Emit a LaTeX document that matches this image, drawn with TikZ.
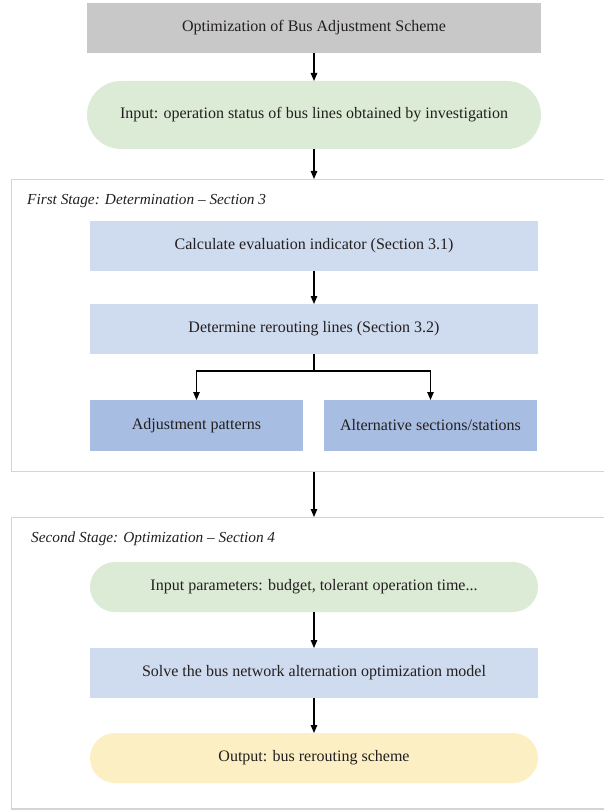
\documentclass[tikz,border=0pt]{standalone}
\usepackage{fontspec}
\setmainfont{Liberation Serif}
\usetikzlibrary{arrows.meta}
\definecolor{txt}{HTML}{231F20}
\definecolor{titlegray}{HTML}{C8C8C8}
\definecolor{ingreen}{HTML}{DCEBD5}
\definecolor{lblue}{HTML}{CFDBEE}
\definecolor{mblue}{HTML}{A8BDE2}
\definecolor{outyellow}{HTML}{FCEFC4}
\definecolor{framegray}{HTML}{D4D4D4}
\tikzset{
  base/.style={inner sep=0pt, outer sep=0pt, text=txt, font=\fontsize{16}{19}\selectfont, align=center},
  titlebox/.style={base, fill=titlegray, minimum width=454pt, minimum height=50pt},
  pill/.style={base, minimum width=448pt, minimum height=50pt},
  bluebox/.style={base, fill=lblue, minimum width=448pt, minimum height=50pt},
  halfbox/.style={base, fill=mblue, minimum width=213pt, minimum height=51pt},
  stagelabel/.style={inner sep=0pt, anchor=west, text=txt, font=\fontsize{15.3}{18}\selectfont\itshape},
  framebox/.style={draw=framegray, line width=1.5pt},
  conn/.style={draw=black, line width=1.2pt, -{Triangle[length=8pt,width=6.5pt]}}
}
\begin{document}
\begin{tikzpicture}[x=1pt,y=-1pt]
\useasboundingbox (0,0) rectangle (604,810);
% stage frames
\draw[framebox] (606,179.5) -- (11.5,179.5) -- (11.5,471.5) -- (606,471.5);
\draw[framebox] (606,517.5) -- (11.5,517.5) -- (11.5,809) -- (606,809);
\coordinate (f1top) at (314,179);
\coordinate (f1bot) at (314,472);
\coordinate (f2top) at (314,517);
\node[stagelabel] (lab1) at (27,201.5) {First Stage: Determination – Section 3};
\node[stagelabel] (lab2) at (31,538.5) {Second Stage: Optimization – Section 4};
% nodes
\node[titlebox] (title) at (314,28) {Optimization of Bus Adjustment Scheme};
\node[pill, fill=ingreen, minimum width=454pt, minimum height=68pt, rounded corners=34pt] (input) at (314,115) {Input: operation status of bus lines obtained by investigation};
\node[bluebox] (calc) at (314,246) {Calculate evaluation indicator (Section 3.1)};
\node[bluebox] (det) at (314,329) {Determine rerouting lines (Section 3.2)};
\node[halfbox] (adj) at (196.5,425.5) {Adjustment patterns};
\node[halfbox] (alt) at (430.5,425.5) {Alternative sections/stations};
\node[pill, fill=ingreen, rounded corners=25pt] (param) at (314,587) {Input parameters: budget, tolerant operation time...};
\node[bluebox] (solve) at (314,673) {Solve the bus network alternation optimization model};
\node[pill, fill=outyellow, rounded corners=25pt] (out) at (314,758) {Output: bus rerouting scheme};
% connectors
\draw[conn] (title) -- (input);
\draw[conn] (input) -- (f1top);
\draw[conn] (calc) -- (det);
\coordinate (split) at (314,371);
\draw[line width=1.2pt] (det.south) -- (split);
\draw[conn] (split) -| (adj.north);
\draw[conn] (split) -| (alt.north);
\draw[conn] (f1bot) -- (f2top);
\draw[conn] (param) -- (solve);
\draw[conn] (solve) -- (out);
\end{tikzpicture}
\end{document}
